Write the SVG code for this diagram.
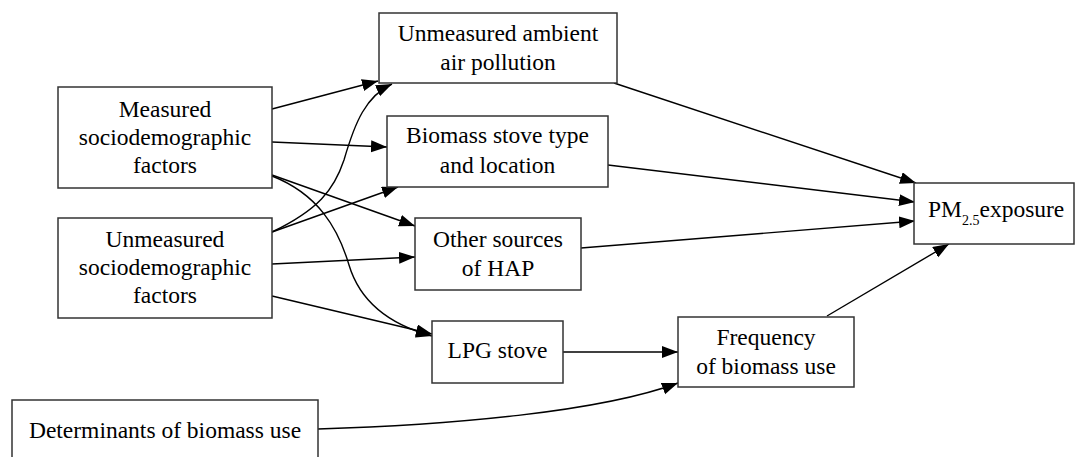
<svg xmlns="http://www.w3.org/2000/svg" width="1075" height="457" viewBox="0 0 1075 457">
<style>
.box{fill:#fff;stroke:#333;stroke-width:1.5}
.t{font-family:"Liberation Serif","Times New Roman",serif;font-size:23.5px;fill:#000;text-anchor:middle}
.e{fill:none;stroke:#000;stroke-width:1.4;marker-end:url(#ah)}
</style>
<defs>
<marker id="ah" markerWidth="18" markerHeight="14" refX="16" refY="6" orient="auto" markerUnits="userSpaceOnUse">
<path d="M0,0 L16,6 L0,12 Z" fill="#000"/>
</marker>
</defs>
<rect width="1075" height="457" fill="#fff"/>
<g id="edges">
<path class="e" d="M272,109 L378,81"/>
<path class="e" d="M272,142 L387,147"/>
<path class="e" d="M272,175 L415,226"/>
<path class="e" d="M272,176 C318,194 338,228 349,265 C361,305 395,326 432,336"/>
<path class="e" d="M272,232 C318,210 334,190 344,160 C355,122 366,96 392,84"/>
<path class="e" d="M272,232 L398,187"/>
<path class="e" d="M272,264 L415,257"/>
<path class="e" d="M272,296 L432,334"/>
<path class="e" d="M614,83 L916,183"/>
<path class="e" d="M608,165 L915,202"/>
<path class="e" d="M581,248 L915,221"/>
<path class="e" d="M563,352 L678,352"/>
<path class="e" d="M318,429 C450,425 600,412 678,383"/>
<path class="e" d="M827,316 L949,244"/>
</g>
<g id="measured">
<rect class="box" x="58" y="87" width="214" height="101"/>
<text class="t" x="165" y="117">Measured</text>
<text class="t" x="165" y="145">sociodemographic</text>
<text class="t" x="165" y="173">factors</text>
</g>
<g id="unmeasured">
<rect class="box" x="58" y="218" width="214" height="100"/>
<text class="t" x="165" y="247">Unmeasured</text>
<text class="t" x="165" y="275">sociodemographic</text>
<text class="t" x="165" y="303">factors</text>
</g>
<g id="determinants">
<rect class="box" x="12" y="400" width="306" height="70"/>
<text class="t" x="165" y="438">Determinants of biomass use</text>
</g>
<g id="ambient">
<rect class="box" x="379" y="13" width="238" height="70"/>
<text class="t" x="498" y="41">Unmeasured ambient</text>
<text class="t" x="498" y="70">air pollution</text>
</g>
<g id="biomass">
<rect class="box" x="387" y="116" width="221" height="71"/>
<text class="t" x="497.5" y="143">Biomass stove type</text>
<text class="t" x="497.5" y="173">and location</text>
</g>
<g id="other">
<rect class="box" x="415" y="218" width="166" height="72"/>
<text class="t" x="498" y="247">Other sources</text>
<text class="t" x="498" y="276">of HAP</text>
</g>
<g id="lpg">
<rect class="box" x="432" y="321" width="131" height="62"/>
<text class="t" x="497.5" y="358">LPG stove</text>
</g>
<g id="frequency">
<rect class="box" x="678" y="317" width="176" height="70"/>
<text class="t" x="766" y="345">Frequency</text>
<text class="t" x="766" y="374">of biomass use</text>
</g>
<g id="pm">
<rect class="box" x="914" y="183" width="160" height="61"/>
<text class="t" x="928" y="217" style="text-anchor:start">PM<tspan font-size="14" dy="8">2.5</tspan><tspan dy="-8">exposure</tspan></text>
</g>
</svg>
